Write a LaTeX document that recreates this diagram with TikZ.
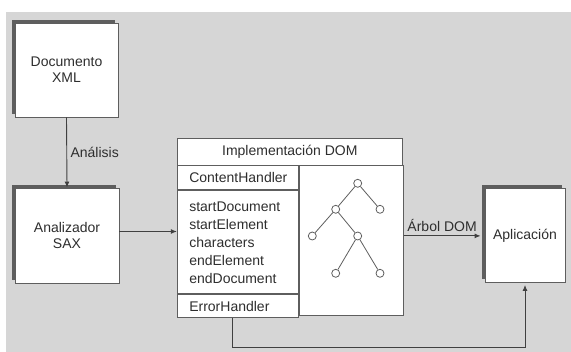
\documentclass[tikz,border=0pt]{standalone}
\usepackage{fontspec}
\setmainfont{Liberation Sans}
\usetikzlibrary{positioning, calc, shadows, arrows.meta}

\definecolor{fondo}{HTML}{D6D6D6}
\definecolor{linea}{HTML}{5E5E5E}
\definecolor{texto}{HTML}{2E2E2E}

\tikzset{
    caja/.style={draw=linea, fill=white, line width=0.9pt, align=center, text=texto,
        font=\fontsize{14}{16}\selectfont},
    sombra/.style={general shadow={fill=linea, shadow xshift=-3pt, shadow yshift=3pt}},
    celda/.style={draw=linea, fill=white, line width=0.9pt, minimum width=121pt, text width=97pt,
        inner xsep=12pt, align=left, text=texto, font=\fontsize{14}{18}\selectfont},
    nodo/.style={circle, draw=linea, fill=white, line width=0.8pt, inner sep=0pt, minimum size=8pt},
    etiqueta/.style={text=texto, font=\fontsize{14}{16}\selectfont},
    flecha/.style={->, draw=black!75, line width=0.9pt}
}

\begin{document}
\begin{tikzpicture}[x=1pt, y=-1pt, >={Latex[length=6pt, width=5pt]}]
        \useasboundingbox (0, 0) rectangle (571, 352);
        \fill[fondo] (6, 12) rectangle (571, 352);

        \path (66.5, 70) node[caja, sombra, minimum width=103pt, minimum height=94pt](Documento){Documento \\ XML};
        \path (67, 235.5) node[caja, sombra, minimum width=104pt, minimum height=95pt](Analizador){Analizador \\ SAX};
        \path (525, 235.5) node[caja, sombra, minimum width=80pt, minimum height=94pt](Aplicacion){Aplicación};

        % implementacion DOM
        \path (289.8, 151.5) node[caja, minimum width=225pt, minimum height=27pt](Titulo){Implementación DOM};
        \node[celda, anchor=north west, minimum height=24pt] (Contenido) at (Titulo.south west) {ContentHandler};
        \node[celda, anchor=north west, minimum height=103pt] (Metodos) at (Contenido.south west)
            {startDocument \\ startElement \\ characters \\ endElement \\ endDocument};
        \node[celda, anchor=north west, minimum height=23pt] (Error) at (Metodos.south west) {ErrorHandler};
        \node[draw=linea, fill=white, line width=0.9pt, anchor=north west, minimum width=104pt, minimum height=150pt]
            (Arbol) at (Contenido.north east) {};

        % arbol
        \path (357.7, 183.3) node[nodo](raiz){};
        \path (335.7, 209.3) node[nodo](hijoA){};
        \path (380, 209.3) node[nodo](hijoB){};
        \path (312.3, 236) node[nodo](nietoA){};
        \path (357.7, 236) node[nodo](nietoB){};
        \path (335.7, 273.3) node[nodo](hojaA){};
        \path (380, 273.3) node[nodo](hojaB){};
        \draw[linea, line width=0.8pt] (raiz) -- (hijoA) (raiz) -- (hijoB)
            (hijoA) -- (nietoA) (hijoA) -- (nietoB)
            (nietoB) -- (hojaA) (nietoB) -- (hojaB);

        % conexiones
        \draw[flecha] (Documento.south) -- (Analizador.north)
            node[midway, right, etiqueta] {Análisis};
        \draw[flecha] ([yshift=4pt]Analizador.east) -- ([yshift=4pt]Analizador.east -| Metodos.west);
        \draw[flecha] ([yshift=5pt]Arbol.east) -- ([yshift=5pt, xshift=-4pt]Arbol.east -| Aplicacion.west)
            node[midway, above, etiqueta] {Árbol DOM};
        \coordinate (abajo) at ([xshift=-5pt]Error.south |- 0, 347);
        \draw[flecha] ([xshift=-5pt]Error.south) -- (abajo) -| ([yshift=-2pt]Aplicacion.south);
    \end{tikzpicture}
\end{document}
